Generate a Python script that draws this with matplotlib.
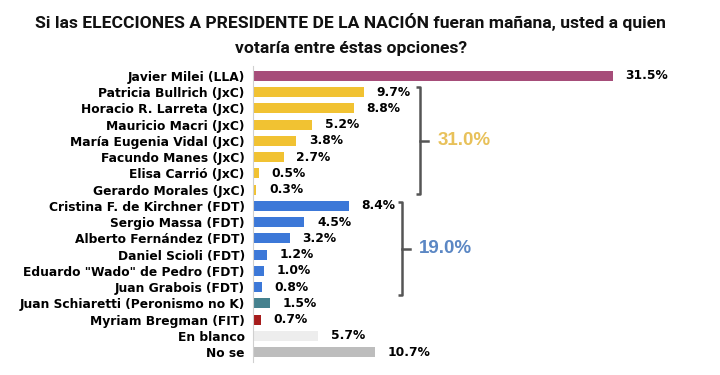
import matplotlib
matplotlib.use("Agg")
import matplotlib.pyplot as plt

# Datos de la encuesta
candidatos = ["Javier Milei (LLA)", "Patricia Bullrich (JxC)", "Horacio R. Larreta (JxC)",
              "Mauricio Macri (JxC)", "María Eugenia Vidal (JxC)", "Facundo Manes (JxC)",
              "Elisa Carrió (JxC)", "Gerardo Morales (JxC)", "Cristina F. de Kirchner (FDT)",
              "Sergio Massa (FDT)", "Alberto Fernández (FDT)", "Daniel Scioli (FDT)",
              "Eduardo \"Wado\" de Pedro (FDT)", "Juan Grabois (FDT)",
              "Juan Schiaretti (Peronismo no K)", "Myriam Bregman (FIT)", "En blanco", "No se"]
valores = [31.5, 9.7, 8.8, 5.2, 3.8, 2.7, 0.5, 0.3, 8.4, 4.5, 3.2, 1.2, 1.0, 0.8, 1.5, 0.7, 5.7, 10.7]
colores = ["#A64D79"] + ["#F1C232"] * 7 + ["#3C78D8"] * 6 + ["#45818E", "#A61C1C", "#EDEDED", "#BDBDBD"]
total_jxc = "31.0%"
total_fdt = "19.0%"

plt.rcParams["font.family"] = ["DejaVu Sans"]

fig = plt.figure(figsize=(7.2, 3.75), dpi=100)
ax = fig.add_axes([253 / 720, 1 - 362 / 375, 457 / 720, 296 / 375])

y = list(range(len(candidatos)))
ax.barh(y, valores, height=0.62, color=colores)
for i, v in enumerate(valores):
    ax.text(v + 1.1, i, f"{v:.1f}%", va="center", ha="left", fontsize=8.8, fontweight="bold")

ax.set_yticks(y)
ax.set_yticklabels(candidatos, fontsize=8.8, fontweight="bold")
ax.tick_params(axis="y", length=0, pad=6)
ax.set_xticks([])
ax.set_xlim(0, 40)
ax.set_ylim(17.6, -0.6)
for s in ["top", "right", "bottom"]:
    ax.spines[s].set_visible(False)
ax.spines["left"].set_color("#D0D0D0")

# Llaves de agrupamiento
def llave(x, y0, y1, texto, color, dx):
    ym = (y0 + y1) / 2
    ax.plot([x - 0.35, x, x, x - 0.35], [y0, y0, y1, y1], color="#555555", lw=1.8,
            solid_capstyle="butt", clip_on=False)
    ax.plot([x, x + 0.7], [ym, ym], color="#555555", lw=1.8, clip_on=False)
    ax.text(x + dx, ym, texto, color=color, fontsize=13.5, fontweight="bold", va="center", ha="left",
            family="Liberation Sans")

llave(14.65, 0.72, 7.25, total_jxc, "#E8C15A", 1.55)
llave(13.05, 7.75, 13.5, total_fdt, "#5B87C4", 1.45)

fig.text(0.487, 0.941, "Si las ELECCIONES A PRESIDENTE DE LA NACIÓN fueran mañana, usted a quien",
         ha="center", va="center", fontsize=12.6, fontweight="bold", family="Roboto", color="#111111")
fig.text(0.487, 0.872, "votaría entre éstas opciones?",
         ha="center", va="center", fontsize=12.6, fontweight="bold", family="Roboto", color="#111111")

fig.savefig("out.png", dpi=100, facecolor="white")
